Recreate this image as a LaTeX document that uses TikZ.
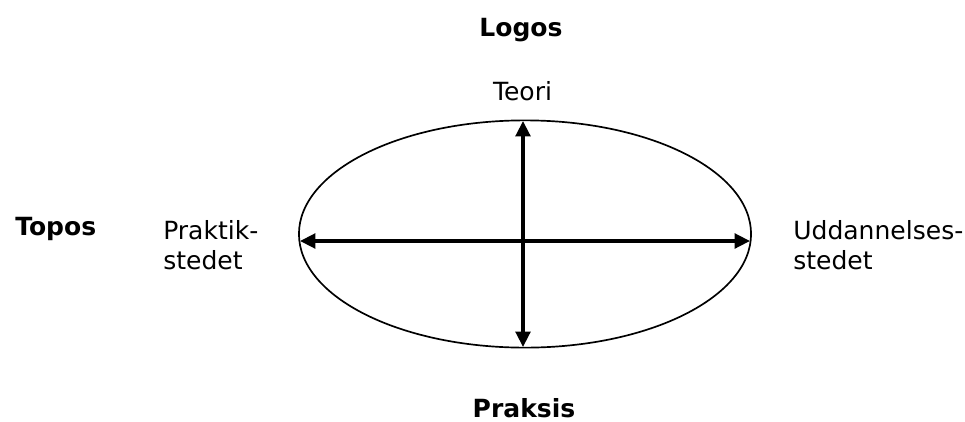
\documentclass[tikz,border=0pt]{standalone}
\usepackage{fontspec}
\setmainfont{DejaVu Sans}
\usetikzlibrary{arrows.meta,positioning,shapes.geometric}

\begin{document}
\begin{tikzpicture}[
  x=0.025cm, y=-0.025cm,
  >={Triangle[length=11pt,width=10.5pt]},
  font=\fontsize{17.8}{21.3}\selectfont,
  pole/.style={font=\fontsize{17.8}{21.3}\selectfont\bfseries,anchor=base,inner sep=0pt},
  word/.style={anchor=base,inner sep=0pt},
  place/.style={anchor=base west,align=left,inner sep=0pt},
  rum/.style={ellipse,draw,line width=1.2pt,minimum width=11.3cm,minimum height=5.68cm,inner sep=0pt},
  akse/.style={<->,line width=2.4pt}
]
\useasboundingbox (0,0) rectangle (965,421);
% the ellipse
\node[rum] (felt) at (525,234) {};
% ends of the two axes
\coordinate (vest) at (300,241);
\coordinate (oest) at (750,241);
\coordinate (top) at (523,121);
\coordinate (bund) at (523,347);
\draw[akse] (vest) -- (oest);
\draw[akse] (top) -- (bund);
% bold poles
\node[pole] (logos) at (521,36) {Logos};
\node[pole] (praksis) at (524,417) {Praksis};
\node[pole,anchor=base west] (topos) at (15,235) {Topos};
% plain labels
\node[word] (teori) at (522.5,100) {Teori};
\node[place] (praktik) at (163,269) {Praktik-\\stedet};
\node[place] (uddannelse) at (793,269) {Uddannelses-\\stedet};
\end{tikzpicture}
\end{document}
